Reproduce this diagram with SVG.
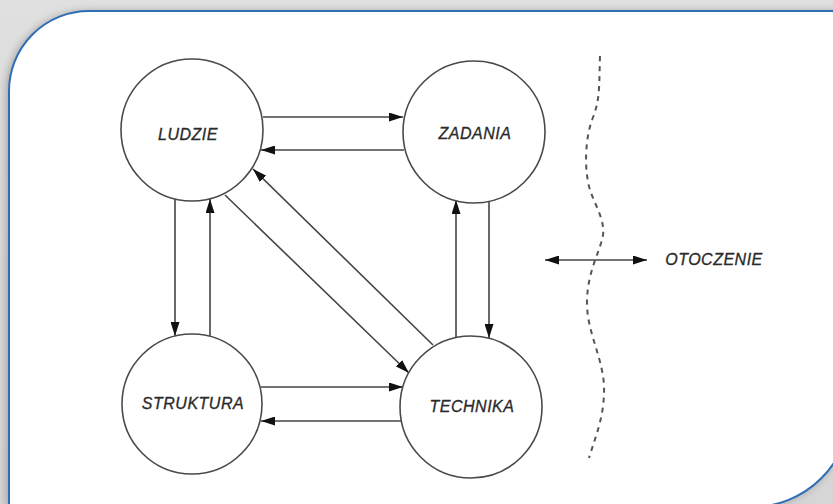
<svg xmlns="http://www.w3.org/2000/svg" width="833" height="504" viewBox="0 0 833 504">
<defs>
<linearGradient id="bg" x1="0" y1="0" x2="0" y2="1">
<stop offset="0" stop-color="#e0e0e0"/>
<stop offset="1" stop-color="#d6d6d6"/>
</linearGradient>
<filter id="sh" x="-10%" y="-10%" width="120%" height="120%">
<feGaussianBlur stdDeviation="5"/>
</filter>
<marker id="ah" viewBox="0 0 14 9" refX="14" refY="4.5" markerWidth="14" markerHeight="9" markerUnits="userSpaceOnUse" orient="auto-start-reverse">
<path d="M0,0 L14,4.5 L0,9 Z" fill="#111"/>
</marker>
<style>
.node circle{fill:#fff;stroke:#4a4a4a;stroke-width:1.6}
.lbl{font-family:"Liberation Sans",Arial,sans-serif;font-style:italic;font-size:16px;fill:#2a2a2a;letter-spacing:0.5px;text-anchor:middle;stroke:#2a2a2a;stroke-width:0.3}
.c line{stroke:#444;stroke-width:1.6;marker-end:url(#ah)}
</style>
</defs>
<rect x="0" y="0" width="833" height="504" fill="url(#bg)"/>
<path d="M9,520 V91 A80,80 0 0 1 89,11 H850 V409 A98,98 0 0 1 752,507 H9 Z" fill="#9a9a9a" filter="url(#sh)" transform="translate(-2,1)"/>
<path id="frame" d="M9,520 V91 A80,80 0 0 1 89,11 H850 V409 A98,98 0 0 1 752,507 H9 Z" fill="#fff" stroke="#2f6eb5" stroke-width="2"/>

<g id="connectors" class="c">
<line x1="263" y1="117" x2="403" y2="117"/>
<line x1="404" y1="150" x2="261" y2="150"/>
<line x1="175" y1="199" x2="175" y2="336"/>
<line x1="210" y1="336" x2="210" y2="199"/>
<line x1="261" y1="387" x2="403" y2="387"/>
<line x1="401" y1="421" x2="261" y2="421"/>
<line x1="489" y1="201" x2="489" y2="338"/>
<line x1="456" y1="338" x2="456" y2="200"/>
<line x1="225" y1="195" x2="409" y2="373"/>
<line x1="433" y1="345" x2="253" y2="169"/>
<line x1="545" y1="260" x2="647" y2="260" style="marker-start:url(#ah)"/>
<path d="M600,56 C599,90 600,100 592,120 C585,140 584,170 590,190 C595,205 605,220 603,235 C600,252 588,270 587,300 C586,330 602,355 604,385 C605,415 596,435 589,458" fill="none" stroke="#555" stroke-width="2" stroke-dasharray="5 5"/>
</g>

<g id="ludzie" class="node"><circle cx="192" cy="130" r="71"/><text class="lbl" x="188" y="140">LUDZIE</text></g>
<g id="zadania" class="node"><circle cx="474" cy="132" r="71"/><text class="lbl" x="475" y="139">ZADANIA</text></g>
<g id="struktura" class="node"><circle cx="192" cy="404" r="70"/><text class="lbl" x="193" y="409">STRUKTURA</text></g>
<g id="technika" class="node"><circle cx="471" cy="407" r="71"/><text class="lbl" x="472" y="412">TECHNIKA</text></g>
<g id="otoczenie"><text class="lbl" x="714" y="265">OTOCZENIE</text></g>
</svg>
